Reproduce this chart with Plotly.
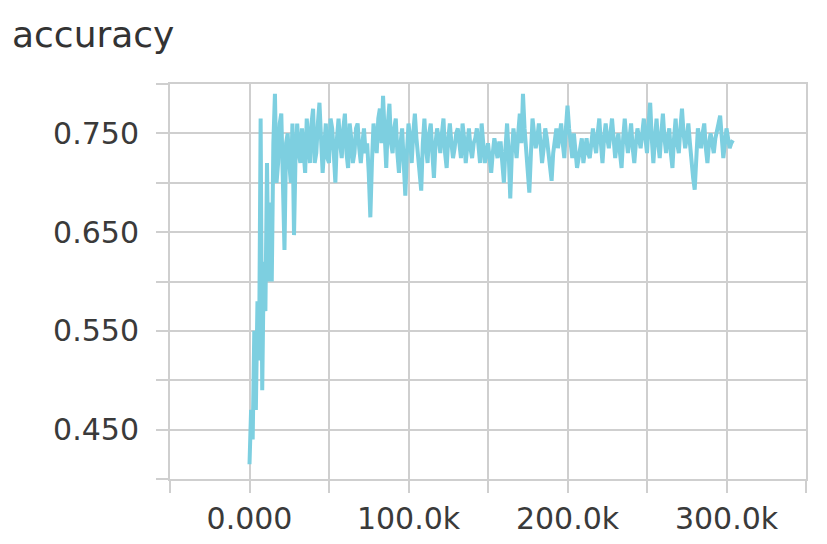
import plotly.graph_objects as go

# ---- data ----
# one logged value per 1k training steps, 0 .. 304k
step_k_first = 0
step_k_last = 304

accuracy = [
    0.415, 0.47, 0.44, 0.55, 0.47, 0.58, 0.52, 0.765, 0.49, 0.62,
    0.57, 0.72, 0.60, 0.68, 0.60, 0.74, 0.79, 0.70, 0.72, 0.76,
    0.77, 0.70, 0.632, 0.74, 0.75, 0.72, 0.70, 0.76, 0.647, 0.73,
    0.76, 0.73, 0.72, 0.755, 0.735, 0.71, 0.765, 0.74, 0.72, 0.76,
    0.775, 0.72, 0.73, 0.76, 0.781, 0.745, 0.71, 0.735, 0.76, 0.725,
    0.72, 0.765, 0.755, 0.73, 0.70, 0.745, 0.765, 0.74, 0.725, 0.755,
    0.77, 0.73, 0.715, 0.76, 0.745, 0.72, 0.73, 0.755, 0.76, 0.735,
    0.72, 0.74, 0.755, 0.73, 0.74, 0.71, 0.665, 0.72, 0.76, 0.745,
    0.73, 0.765, 0.775, 0.74, 0.788, 0.75, 0.715, 0.76, 0.78, 0.74,
    0.73, 0.755, 0.765, 0.73, 0.71, 0.74, 0.755, 0.72, 0.687, 0.73,
    0.76, 0.745, 0.72, 0.75, 0.77, 0.745, 0.73, 0.715, 0.692, 0.74,
    0.765, 0.735, 0.72, 0.75, 0.76, 0.73, 0.705, 0.74, 0.755, 0.745,
    0.73, 0.75, 0.765, 0.73, 0.715, 0.745, 0.76, 0.74, 0.725, 0.735,
    0.75, 0.755, 0.74, 0.725, 0.76, 0.745, 0.72, 0.74, 0.755, 0.735,
    0.725, 0.74, 0.745, 0.755, 0.735, 0.72, 0.76, 0.74, 0.72, 0.73,
    0.74, 0.725, 0.71, 0.73, 0.745, 0.735, 0.725, 0.74, 0.74, 0.72,
    0.70, 0.735, 0.76, 0.73, 0.684, 0.73, 0.755, 0.74, 0.725, 0.75,
    0.77, 0.74, 0.79, 0.755, 0.73, 0.715, 0.69, 0.73, 0.765, 0.75,
    0.735, 0.745, 0.76, 0.74, 0.72, 0.735, 0.755, 0.745, 0.73, 0.715,
    0.702, 0.73, 0.745, 0.755, 0.735, 0.745, 0.76, 0.74, 0.725, 0.755,
    0.778, 0.755, 0.74, 0.725, 0.75, 0.73, 0.715, 0.725, 0.735, 0.745,
    0.72, 0.735, 0.745, 0.73, 0.725, 0.74, 0.755, 0.74, 0.73, 0.75,
    0.765, 0.74, 0.72, 0.745, 0.76, 0.745, 0.735, 0.75, 0.765, 0.745,
    0.725, 0.74, 0.75, 0.73, 0.715, 0.745, 0.765, 0.745, 0.73, 0.745,
    0.76, 0.735, 0.72, 0.74, 0.755, 0.745, 0.735, 0.75, 0.765, 0.745,
    0.73, 0.76, 0.781, 0.745, 0.72, 0.745, 0.765, 0.74, 0.725, 0.75,
    0.77, 0.745, 0.73, 0.745, 0.755, 0.73, 0.715, 0.745, 0.765, 0.74,
    0.73, 0.755, 0.775, 0.75, 0.735, 0.745, 0.76, 0.74, 0.72, 0.705,
    0.693, 0.725, 0.755, 0.745, 0.735, 0.75, 0.76, 0.735, 0.72, 0.74,
    0.75, 0.74, 0.73, 0.745, 0.755, 0.76, 0.768, 0.74, 0.725, 0.74,
    0.755, 0.745, 0.735, 0.74, 0.743,
]

x_tick_vals = [-50000, 0, 50000, 100000, 150000, 200000, 250000, 300000, 350000]
x_tick_text = ["", "0.000", "", "100.0k", "", "200.0k", "", "300.0k", ""]
y_tick_vals = [0.40, 0.45, 0.50, 0.55, 0.60, 0.65, 0.70, 0.75, 0.80]
y_tick_text = ["", "0.450", "", "0.550", "", "0.650", "", "0.750", ""]

steps = [k * 1000 for k in range(step_k_first, step_k_last + 1)]

GRID = "#cfcfcf"
FONT = "DejaVu Sans"

# page body has an 8px default margin; size the figure so it fits the window
W, H = 811, 528

fig = go.Figure(go.Scatter(
    x=steps, y=accuracy, mode="lines",
    line=dict(color="#7dcfe0", width=4),
    hoverinfo="x+y", showlegend=False,
))

fig.update_layout(
    width=W, height=H,
    margin=dict(l=162, r=13, t=76, b=57),
    paper_bgcolor="white", plot_bgcolor="white",
    font=dict(family=FONT, size=30, color="#3a3a3a"),
    title=dict(text="accuracy", font=dict(family=FONT, size=36, color="#333333"),
               xref="container", yref="container",
               x=4 / W, xanchor="left", y=1 - 26 / H, yanchor="middle"),
)

fig.update_xaxes(
    range=[-50000, 350000], tickmode="array",
    tickvals=x_tick_vals, ticktext=x_tick_text,
    showgrid=True, gridcolor=GRID, gridwidth=2,
    showline=True, linecolor=GRID, linewidth=2, mirror=True,
    ticks="outside", ticklen=12, tickwidth=2, tickcolor=GRID,
    zeroline=False, ticklabelstandoff=0, automargin=False,
)
fig.update_yaxes(
    range=[0.40, 0.80], tickmode="array",
    tickvals=y_tick_vals, ticktext=y_tick_text,
    showgrid=True, gridcolor=GRID, gridwidth=2,
    showline=True, linecolor=GRID, linewidth=2, mirror=True,
    ticks="outside", ticklen=12, tickwidth=2, tickcolor=GRID,
    zeroline=False, ticklabelstandoff=11, automargin=False,
)

fig.write_html("out.html")
